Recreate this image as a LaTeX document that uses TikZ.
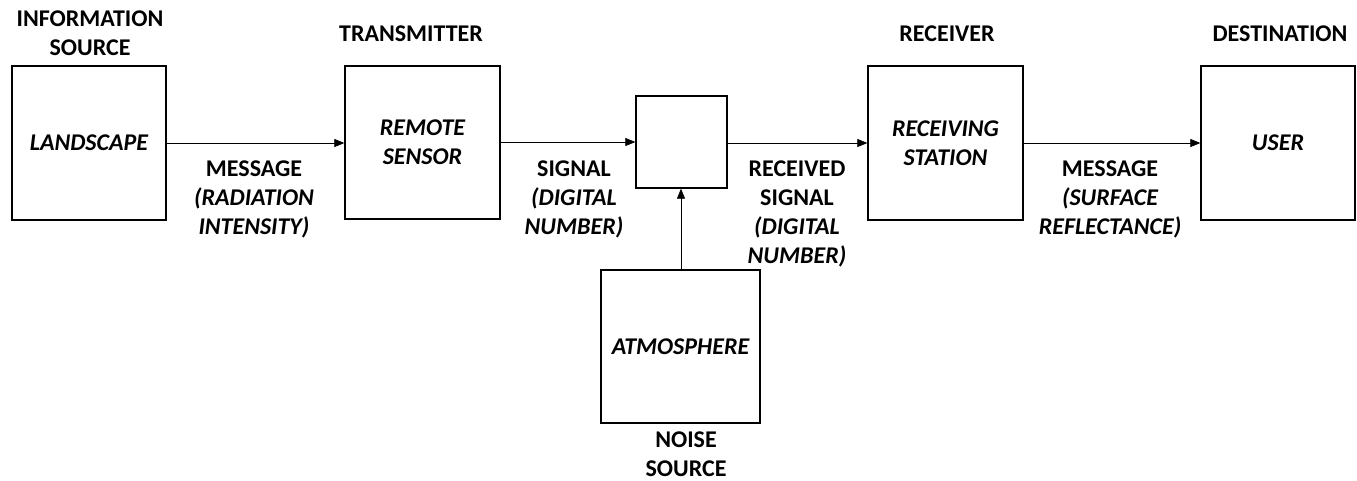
\documentclass[tikz,border=0pt]{standalone}
\usepackage{fontspec}
\setmainfont{Carlito}
\usetikzlibrary{arrows.meta}
\begin{document}
\begin{tikzpicture}[x=1pt,y=-1pt,
  blk/.style={draw, line width=1.3pt, inner sep=0pt, font=\fontsize{24}{29}\selectfont\bfseries\itshape, align=center},
  lbl/.style={font=\fontsize{24}{29}\selectfont\bfseries, align=center, inner sep=0pt},
  conn/.style={line width=0.7pt, -{Triangle[length=10pt,width=8pt]}}]
\useasboundingbox (0,0) rectangle (1357,480);
\node[blk, minimum width=154pt, minimum height=154pt] (land) at (89,143) {LANDSCAPE};
\node[blk, minimum width=155pt, minimum height=153pt] (sens) at (422.5,142.5) {REMOTE\\SENSOR};
\node[blk, minimum width=91pt, minimum height=92pt] (mix) at (681.5,142) {};
\node[blk, minimum width=159pt, minimum height=153pt] (atm) at (680.5,346.5) {ATMOSPHERE};
\node[blk, minimum width=155pt, minimum height=154pt] (rec) at (945.5,143) {RECEIVING\\STATION};
\node[blk, minimum width=154pt, minimum height=154pt] (user) at (1278,143) {USER};

\node[lbl] (t1) at (90,33) {INFORMATION\\SOURCE};
\node[lbl] (t2) at (411,34) {TRANSMITTER};
\node[lbl] (t3) at (947,34) {RECEIVER};
\node[lbl] (t4) at (1280,34) {DESTINATION};
\node[lbl] (t5) at (686,454) {NOISE\\SOURCE};

\node[lbl] (m1) at (254,199) {MESSAGE\\\itshape(RADIATION\\\itshape INTENSITY)};
\node[lbl] (m2) at (574,199) {SIGNAL\\\itshape(DIGITAL\\\itshape NUMBER)};
\node[lbl] (m3) at (797,214) {RECEIVED\\SIGNAL\\\itshape(DIGITAL\\\itshape NUMBER)};
\node[lbl] (m4) at (1110,199) {MESSAGE\\\itshape(SURFACE\\\itshape REFLECTANCE)};

\draw[conn] (land.east |- 0,143) -- (sens.west |- 0,143);
\draw[conn] (sens.east |- 0,142) -- (mix.west |- 0,142);
\draw[conn] (mix.east |- 0,143) -- (rec.west |- 0,143);
\draw[conn] (rec.east |- 0,143) -- (user.west |- 0,143);
\draw[conn] (atm.north -| 681,0) -- (mix.south -| 681,0);
\end{tikzpicture}
\end{document}
